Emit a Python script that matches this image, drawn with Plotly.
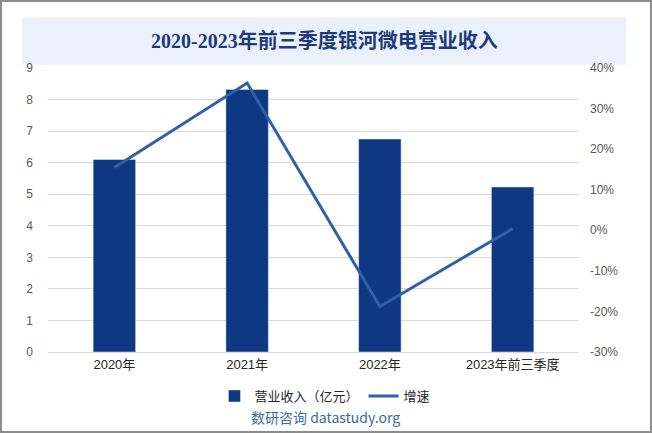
import plotly.graph_objects as go

categories = ["2020年", "2021年", "2022年", "2023年前三季度"]
revenue = [6.1, 8.32, 6.75, 5.23]
growth = [0.155, 0.363, -0.188, 0.004]
left_ticks = [0, 1, 2, 3, 4, 5, 6, 7, 8, 9]
right_ticks = [-0.3, -0.2, -0.1, 0, 0.1, 0.2, 0.3, 0.4]
right_labels = ["-30%", "-20%", "-10%", "0%", "10%", "20%", "30%", "40%"]

W, H = 652, 433
L, R, T, B = 48, 73, 68, 81
pw, ph = W - L - R, H - T - B

def px(x):
    return (x - L) / pw

def py(y):
    return (H - B - y) / ph

fig = go.Figure()
fig.add_trace(go.Bar(x=categories, y=revenue, name="营业收入（亿元）",
                     marker=dict(color="#0F3883"), width=0.32, yaxis="y"))
fig.add_trace(go.Scatter(x=categories, y=growth, name="增速", mode="lines",
                         line=dict(color="#3060AA", width=3), yaxis="y2"))

fig.update_layout(
    width=W, height=H,
    margin=dict(l=L, r=R, t=T, b=B),
    paper_bgcolor="white", plot_bgcolor="white",
    font=dict(family="Liberation Sans, Noto Sans CJK SC", color="#595959", size=12),
    showlegend=True,
    legend=dict(orientation="h", x=px(325), xanchor="center", y=py(396), yanchor="middle",
                font=dict(size=13, color="#262626", family="Noto Sans CJK SC"),
                bgcolor="rgba(0,0,0,0)", itemwidth=30, tracegroupgap=0),
    xaxis=dict(showgrid=False, showline=True, linecolor="#d9d9d9", linewidth=1,
               ticks="", tickfont=dict(size=13, color="#262626", family="Liberation Sans, Noto Sans CJK SC")),
    yaxis=dict(range=[0, 9], tickvals=left_ticks, showgrid=True, gridcolor="#d9d9d9",
               zeroline=False, showline=False, ticks="", ticklabelstandoff=14,
               tickfont=dict(size=12, color="#595959")),
    yaxis2=dict(range=[-0.3, 0.4], tickvals=right_ticks, ticktext=right_labels, overlaying="y",
                side="right", showgrid=False, zeroline=False, showline=False, ticks="",
                ticklabelstandoff=10, tickfont=dict(size=12, color="#595959")),
    shapes=[
        dict(type="rect", xref="paper", yref="paper", x0=px(22), x1=px(626), y0=py(64.5), y1=py(17.5),
             fillcolor="#EAF1FB", line=dict(width=0), layer="below"),
        dict(type="rect", xref="paper", yref="paper", x0=px(1), x1=px(651), y0=py(432), y1=py(1),
             fillcolor="rgba(0,0,0,0)", line=dict(color="#8c8c8c", width=2)),
    ],
    annotations=[
        dict(text="<b>2020-2023年前三季度银河微电营业收入</b>", xref="paper", yref="paper",
             x=px(324), y=py(41), xanchor="center", yanchor="middle", showarrow=False,
             font=dict(size=20, color="#1F3A7A", family="Liberation Serif, Noto Sans CJK SC")),
        dict(text="数研咨询 datastudy.org", xref="paper", yref="paper",
             x=px(325), y=py(417), xanchor="center", yanchor="middle", showarrow=False,
             font=dict(size=14, color="#3E6A9E", family="Noto Sans CJK SC")),
    ],
)

fig.write_html("out.html", config={"displayModeBar": False},
               post_script="document.body.style.margin='0';document.body.style.overflow='hidden';")
